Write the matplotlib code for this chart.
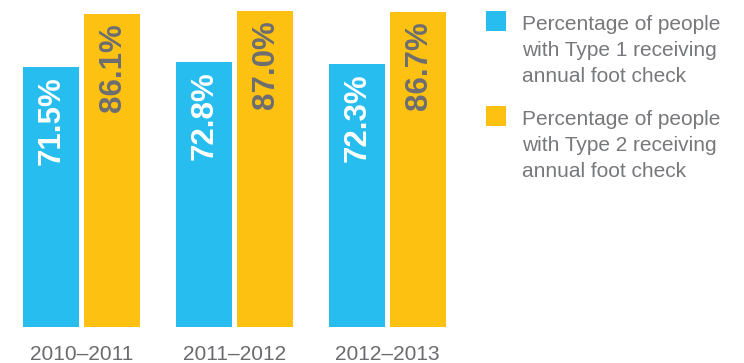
import matplotlib
matplotlib.use("Agg")
import matplotlib.pyplot as plt
from matplotlib.patches import Rectangle
import numpy as np

# Data
periods = ["2010\u20132011", "2011\u20132012", "2012\u20132013"]
type1_pct = [71.5, 72.8, 72.3]
type2_pct = [86.1, 87.0, 86.7]
series_names = [
    "Percentage of people\nwith Type 1 receiving\nannual foot check",
    "Percentage of people\nwith Type 2 receiving\nannual foot check",
]

BLUE = "#27BDEE"
GOLD = "#FDC112"
GREY = "#6D6E71"
SANS = ["Liberation Sans", "DejaVu Sans"]

W, H = 744, 363
fig = plt.figure(figsize=(W / 100, H / 100), dpi=100)
ax = fig.add_axes([0, 36 / H, 470 / W, 327 / H])

x = np.arange(len(periods))
bw = 0.366
off = 0.2
b1 = ax.bar(x - off, type1_pct, width=bw, color=BLUE, linewidth=0)
b2 = ax.bar(x + off, type2_pct, width=bw, color=GOLD, linewidth=0)

ax.set_ylim(0, 90)
ax.set_xlim(-0.5327, 2.539)

label_font = dict(family=SANS, weight="bold", size=22.5)
for bars, vals, col in ((b1, type1_pct, "white"), (b2, type2_pct, GREY)):
    for rect, v in zip(bars, vals):
        ax.annotate(f"{v:.1f}%", xy=(rect.get_x() + rect.get_width() / 2, v),
                    xytext=(1, -9), textcoords="offset pixels",
                    rotation=90, ha="center", va="top", color=col, **label_font)

ax.set_xticks(x)
ax.set_xticklabels(periods, family=SANS, size=15, color="#6A6B6E", va="baseline")
ax.tick_params(axis="x", length=0, pad=33 * 72 / 100)
ax.set_yticks([])
for s in ax.spines.values():
    s.set_visible(False)

# Legend drawn in figure pixels
legend_font = dict(family=SANS, size=15, color="#77787B")
tr = fig.transFigure
entries = [(series_names[0], BLUE, 11, 30), (series_names[1], GOLD, 106, 125)]
for text, col, sq_top, first_base in entries:
    fig.patches.append(Rectangle((486 / W, 1 - (sq_top + 20) / H), 20 / W, 20 / H,
                                 transform=tr, facecolor=col, edgecolor="none"))
    for i, line in enumerate(text.split("\n")):
        fig.text(522.5 / W, 1 - (first_base + i * 25.8) / H, line,
                 ha="left", va="baseline", **legend_font)

fig.savefig("out.png", dpi=100)
